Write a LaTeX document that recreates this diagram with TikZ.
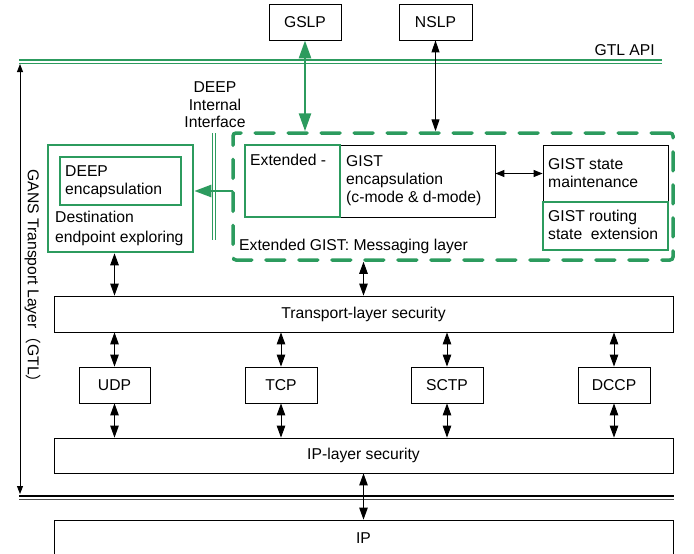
\documentclass[tikz,border=0pt]{standalone}
\usepackage{fontspec}
\setmainfont{Liberation Sans}
\newfontfamily\cjk{Noto Sans CJK SC}
\usetikzlibrary{arrows.meta,calc}
\definecolor{gr}{RGB}{44,155,94}
\begin{document}
\begin{tikzpicture}[x=1pt,y=-1pt,
 every node/.style={font=\fontsize{15.7pt}{19pt}\selectfont, inner sep=0pt},
 bbox/.style={draw=black, line width=0.8pt, rectangle},
 gbox/.style={draw=gr, line width=2.6pt, rectangle},
 dbox/.style={draw=gr, line width=3.5pt, line cap=round, dash pattern=on 19pt off 14pt, rounded corners=3pt, rectangle},
 barr/.style={line width=1pt, >={Triangle[length=12pt,width=8.5pt]}, <->},
 sarr/.style={line width=0.9pt, >={Triangle[length=9pt,width=7pt]}, <->},
 axarr/.style={line width=0.9pt, >={Triangle[length=8pt,width=6pt]}, <->},
 garr/.style={draw=gr, line width=2.6pt, >={Triangle[length=18pt,width=12pt]}},
 gline/.style={draw=gr},
]
\useasboundingbox (0,0) rectangle (694,554);
\clip (0,0) rectangle (694,554);

% top boxes
\node[bbox, minimum width=72, minimum height=36] (gslp) at (305,22) {GSLP};
\node[bbox, minimum width=73, minimum height=36] (nslp) at (435.5,22) {NSLP};

% GTL API double line
\coordinate (apiL1) at (19,60);  \coordinate (apiR1) at (662,60);
\coordinate (apiL2) at (19,63.5);\coordinate (apiR2) at (662,63.5);
\draw[gline, line width=1.8pt] (apiL1) -- (apiR1);
\draw[gline, line width=1pt] (apiL2) -- (apiR2);
\node[anchor=base east] (apilbl) at (655,56) {GTL API};

% left axis
\coordinate (axT) at (20,64);
\coordinate (axB) at (20,494);
\draw[axarr] (axT) -- (axB);
\node[rotate=-90] (gans) at (33,280) {GANS Transport Layer{\cjk （}GTL{\cjk ）}};

% DEEP internal interface
\node[align=center, anchor=north, font=\fontsize{15.7pt}{17.5pt}\selectfont] (dii) at (215,81.6) {DEEP\\Internal\\Interface};
\coordinate (if1t) at (212,133); \coordinate (if1b) at (212,240);
\coordinate (if2t) at (215.5,133); \coordinate (if2b) at (215.5,240);
\draw[gline, line width=0.9pt] (if1t) -- (if1b);
\draw[gline, line width=0.9pt] (if2t) -- (if2b);

% extended GIST dashed box
\node[dbox, minimum width=440, minimum height=127] (ext) at (453,196.5) {};
\node[bbox, minimum width=155, minimum height=72] (enc) at (417.5,181) {};
\node[gbox, minimum width=95, minimum height=72] (extbox) at (292.5,181) {};
\node[bbox, minimum width=125, minimum height=57] (state) at (605.5,173.5) {};
\node[gbox, minimum width=125, minimum height=48] (route) at (605.5,226) {};

\node[anchor=base west] (extlbl) at (250,165) {Extended -};
\node[align=left, anchor=north west, font=\fontsize{15.7pt}{18pt}\selectfont] (enctxt) at (346,155.5) {GIST\\encapsulation\\(c-mode \& d-mode)};
\node[align=left, anchor=north west, font=\fontsize{15.7pt}{18pt}\selectfont] (statetxt) at (548,158) {GIST state\\maintenance};
\node[align=left, anchor=north west, font=\fontsize{15.7pt}{18pt}\selectfont] (routetxt) at (548,209.6) {GIST routing\\state~ extension};
\node[anchor=base west] (msglbl) at (239,250) {Extended GIST: Messaging layer};

% DEEP boxes
\node[gbox, minimum width=145, minimum height=107] (deepout) at (120.5,198.5) {};
\node[gbox, minimum width=121, minimum height=48] (deepin) at (120.5,181) {};
\node[align=left, anchor=north west, font=\fontsize{15.7pt}{18pt}\selectfont] (deeptxt) at (65,165.6) {DEEP\\encapsulation};
\node[align=left, anchor=north west, font=\fontsize{15.7pt}{19.5pt}\selectfont] (desttxt) at (55,211) {Destination\\endpoint exploring};

% lower stack
\node[bbox, minimum width=619, minimum height=36] (tls) at (363.5,314) {Transport-layer security};
\node[bbox, minimum width=71, minimum height=36] (udp) at (114.5,385) {UDP};
\node[bbox, minimum width=72, minimum height=36] (tcp) at (281,385) {TCP};
\node[bbox, minimum width=72, minimum height=36] (sctp) at (447,385) {SCTP};
\node[bbox, minimum width=72, minimum height=36] (dccp) at (614,385) {DCCP};
\node[bbox, minimum width=619, minimum height=35] (ips) at (363.5,455.5) {IP-layer security};
\node[bbox, minimum width=619, minimum height=36] (ip) at (363.5,538) {IP};

% bottom double line
\coordinate (bL1) at (19,496);  \coordinate (bR1) at (674,496);
\coordinate (bL2) at (19,499.5);\coordinate (bR2) at (674,499.5);
\draw[line width=1.4pt] (bL1) -- (bR1);
\draw[line width=0.7pt, black!70] (bL2) -- (bR2);

% connectors
\draw[garr, <->] (gslp.south) -- (gslp.south |- ext.north);
\draw[barr, >={Triangle[length=12pt,width=8pt]}] (nslp.south) -- (nslp.south |- ext.north);
\draw[sarr] (enc.east |- state.west) -- (state.west);
\coordinate (garrS) at (233,191);
\draw[garr, ->, line width=2.5pt, >={Triangle[length=17pt,width=12pt]}] (garrS) -- (garrS -| deepout.east);
\draw[barr] (udp.north |- deepout.south) -- (udp.north |- tls.north);
\draw[barr] (tls.north |- ext.south) -- (tls.north);
\foreach \n in {udp,tcp,sctp,dccp}{
  \draw[barr] (\n.north |- tls.south) -- (\n.north);
  \draw[barr] (\n.south) -- (\n.south |- ips.north);
}
\draw[barr] (ips.south) -- (ip.north);
\end{tikzpicture}
\end{document}
